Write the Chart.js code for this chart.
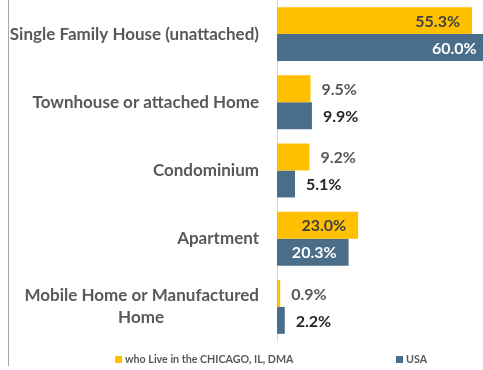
<!DOCTYPE html>
<html><head><meta charset="utf-8">
<script src="https://cdn.jsdelivr.net/npm/chart.js@4"></script>
<style>html,body{margin:0;padding:0;background:#fff;}#wrap{width:483px;height:370px;position:relative;}</style>
</head><body><div id="wrap"><canvas id="c" width="483" height="370"></canvas></div>
<script>
const categories = ['Single Family House (unattached)', 'Townhouse or attached Home', 'Condominium', 'Apartment', ['Mobile Home or Manufactured', 'Home']];
const chicagoValues = [55.3, 9.5, 9.2, 23.0, 0.9];
const usaValues = [60.0, 9.9, 5.1, 20.3, 2.2];
const seriesNames = ['who Live in the CHICAGO, IL, DMA', 'USA'];
const seriesColors = ['#ffc000', '#4a6e8a'];

const FONT = 'Lato';
const TICK_SIZE = 17;
const measureCtx = document.createElement('canvas').getContext('2d');
function centerLines(lines, font) {
  if (!Array.isArray(lines)) return lines;
  measureCtx.font = font;
  const widths = lines.map(l => measureCtx.measureText(l).width);
  const maxW = Math.max(...widths);
  const sp = measureCtx.measureText(' ').width;
  return lines.map((l, i) => l + ' '.repeat(Math.round((maxW - widths[i]) / 2 / sp)));
}

const valueLabels = {
  id: 'valueLabels',
  afterDatasetsDraw(chart) {
    const ctx = chart.ctx;
    chart.data.datasets.forEach((ds, di) => {
      const meta = chart.getDatasetMeta(di);
      meta.data.forEach((bar, i) => {
        const v = ds.data[i];
        const txt = v.toFixed(1) + '%';
        ctx.save();
        ctx.font = 'bold 16px ' + FONT;
        ctx.textBaseline = 'middle';
        if (v > 15) {
          ctx.textAlign = 'right';
          ctx.fillStyle = di === 0 ? '#404040' : '#ffffff';
          ctx.fillText(txt, bar.x - 12, bar.y + 1);
        } else {
          ctx.textAlign = 'left';
          ctx.fillStyle = di === 0 ? '#595959' : '#262626';
          ctx.fillText(txt, bar.x + 11, bar.y + 1);
        }
        ctx.restore();
      });
    });
  }
};

const customLegend = {
  id: 'customLegend',
  afterDraw(chart) {
    const ctx = chart.ctx;
    ctx.save();
    ctx.strokeStyle = '#a6a6a6';
    ctx.lineWidth = 1;
    ctx.beginPath(); ctx.moveTo(8.5, 0); ctx.lineTo(8.5, 366); ctx.stroke();
    const xs = [115, 396];
    const y = 360;
    ctx.font = 'bold 10.7px ' + FONT;
    ctx.textBaseline = 'middle';
    ctx.textAlign = 'left';
    chart.data.datasets.forEach((ds, di) => {
      ctx.fillStyle = ds.backgroundColor;
      ctx.fillRect(xs[di], y - 4, 7, 7);
      ctx.fillStyle = '#595959';
      ctx.fillText(ds.label, xs[di] + 10, y);
    });
    ctx.restore();
  }
};

new Chart(document.getElementById('c'), {
  type: 'bar',
  data: {
    labels: categories,
    datasets: [
      { label: seriesNames[0], data: chicagoValues, backgroundColor: seriesColors[0] },
      { label: seriesNames[1], data: usaValues, backgroundColor: seriesColors[1] }
    ]
  },
  options: {
    indexAxis: 'y',
    responsive: false,
    animation: false,
    devicePixelRatio: 1,
    layout: { padding: { top: 0, right: 0, bottom: 29, left: 0 } },
    datasets: { bar: { barPercentage: 1, categoryPercentage: 0.79 } },
    plugins: { legend: { display: false }, tooltip: { enabled: false } },
    scales: {
      x: { display: false, min: 0, max: 58.4 },
      y: {
        grid: { display: false, drawTicks: false },
        border: { display: true, color: '#d9d9d9', width: 1 },
        afterFit(scale) { scale.width = 277; scale.paddingTop = 0; scale.paddingBottom = 0; },
        ticks: {
          padding: 18,
          color: '#595959',
          font: { family: FONT, weight: 'bold', size: TICK_SIZE, lineHeight: 1.3 },
          callback: function (v) {
            return centerLines(categories[v], 'bold ' + TICK_SIZE + 'px ' + FONT);
          }
        }
      }
    }
  },
  plugins: [valueLabels, customLegend]
});
</script></body></html>
